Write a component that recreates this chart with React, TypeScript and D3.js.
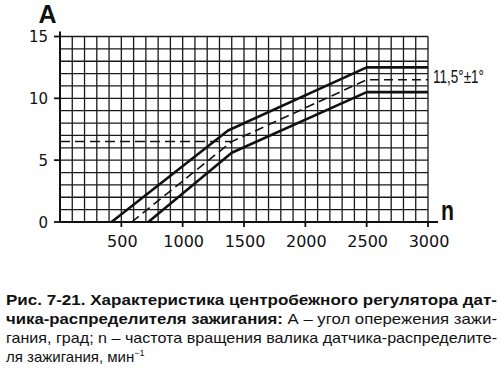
import * as d3 from "d3";

// n, min^-1 / A, deg
const upperN = [420, 1370, 2500, 3000];
const upperA = [0, 7.4, 12.5, 12.5];
const midN = [585, 1400, 2500, 3000];
const midA = [0, 6.5, 11.5, 11.5];
const lowerN = [720, 1400, 2500, 3000];
const lowerA = [0, 5.6, 10.5, 10.5];

const refLevel = 6.5; // dashed horizontal reference
const refEnd = 1400;

const xTicks = [500, 1000, 1500, 2000, 2500, 3000];
const yTicks = [0, 5, 10, 15];
const toleranceLabel = "11,5°±1°";

const captionBold1 = "Рис. 7-21. Характеристика центробежного регулятора дат-";
const captionBold2 = "чика-распределителя зажигания:";
const captionRest2 = " А – угол опережения зажи-";
const caption3 = "гания, град; n – частота вращения валика датчика-распределите-";
const caption4 = "ля зажигания, мин";

const W = 500;
const H = 371;

export default function App() {
  const x = d3.scaleLinear().domain([0, 3000]).range([60, 428]);
  const y = d3.scaleLinear().domain([0, 15]).range([222, 36.5]);

  const gridX = d3.range(0, 3001, 100);
  const gridY = d3.range(0, 16, 1);

  const line = d3
    .line<[number, number]>()
    .x((d) => x(d[0]))
    .y((d) => y(d[1]));

  const curves = [
    { n: upperN, a: upperA, dash: undefined as string | undefined, w: 2.6 },
    { n: midN, a: midA, dash: "9,5", w: 1.6 },
    { n: lowerN, a: lowerA, dash: undefined as string | undefined, w: 2.6 },
  ];

  const ink = "#111";

  return (
    <svg
      width={W}
      height={H}
      style={{ position: "absolute", left: 0, top: 0, background: "#fff" }}
    >
      {/* grid */}
      <g stroke="#1a1a1a" strokeWidth={1.3}>
        {gridX.map((v) => (
          <line key={"gx" + v} x1={x(v)} x2={x(v)} y1={y(0)} y2={y(15)} />
        ))}
        {gridY.map((v) => (
          <line key={"gy" + v} x1={x(0)} x2={x(3000)} y1={y(v)} y2={y(v)} />
        ))}
      </g>

      {/* axes */}
      <line x1={x(0)} x2={x(0)} y1={y(0)} y2={y(15) - 5} stroke={ink} strokeWidth={2} />
      <line x1={x(0)} x2={x(3000) + 10} y1={y(0)} y2={y(0)} stroke={ink} strokeWidth={2.2} />

      {yTicks.map((v) => (
        <g key={"yt" + v}>
          <line x1={x(0) - 6} x2={x(0)} y1={y(v)} y2={y(v)} stroke={ink} strokeWidth={1.8} />
          <text
            x={48}
            y={y(v) + 5.5}
            textAnchor="end"
            fontFamily="DejaVu Sans"
            fontSize={15}
            fill={ink}
          >
            {v}
          </text>
        </g>
      ))}

      {xTicks.map((v) => (
        <g key={"xt" + v}>
          <line x1={x(v)} x2={x(v)} y1={y(0)} y2={y(0) + 5} stroke={ink} strokeWidth={1.8} />
          <text
            x={x(v) + 1}
            y={y(0) + 24.5}
            textAnchor="middle"
            fontFamily="DejaVu Sans"
            fontSize={16}
            fill={ink}
          >
            {v}
          </text>
        </g>
      ))}

      {/* axis names */}
      <text x={47.5} y={23} textAnchor="middle" fontFamily="Liberation Sans" fontWeight="bold" fontSize={25} fill={ink}>
        A
      </text>
      <text x={441} y={220} fontFamily="Liberation Sans" fontWeight="bold" fontSize={27} fill={ink} textLength={13} lengthAdjust="spacingAndGlyphs">
        n
      </text>

      {/* reference level */}
      <line
        x1={x(0)}
        x2={x(refEnd)}
        y1={y(refLevel)}
        y2={y(refLevel)}
        stroke={ink}
        strokeWidth={1.5}
        strokeDasharray="10,5"
      />

      {/* curves */}
      {curves.map((c, i) => (
        <path
          key={i}
          d={line(c.n.map((n, j) => [n, c.a[j]] as [number, number])) ?? ""}
          fill="none"
          stroke={ink}
          strokeWidth={c.w}
          strokeDasharray={c.dash}
          strokeLinejoin="round"
        />
      ))}

      <text x={433} y={83} fontFamily="Liberation Sans" fontSize={18} fill={ink} textLength={51} lengthAdjust="spacingAndGlyphs">
        {toleranceLabel}
      </text>

      {/* caption */}
      <g fontFamily="Liberation Sans" fontSize={15} fill={ink}>
        <text x={6} y={305} fontWeight="bold" textLength={491} lengthAdjust="spacingAndGlyphs">
          {captionBold1}
        </text>
        <text x={6} y={324} textLength={491} lengthAdjust="spacingAndGlyphs">
          <tspan fontWeight="bold">{captionBold2}</tspan>
          <tspan>{captionRest2}</tspan>
        </text>
        <text x={6} y={343} textLength={491} lengthAdjust="spacingAndGlyphs">
          {caption3}
        </text>
        <text x={6} y={362}>
          {caption4}
          <tspan fontSize={9} dy={-6}>
            −1
          </tspan>
        </text>
      </g>
    </svg>
  );
}
